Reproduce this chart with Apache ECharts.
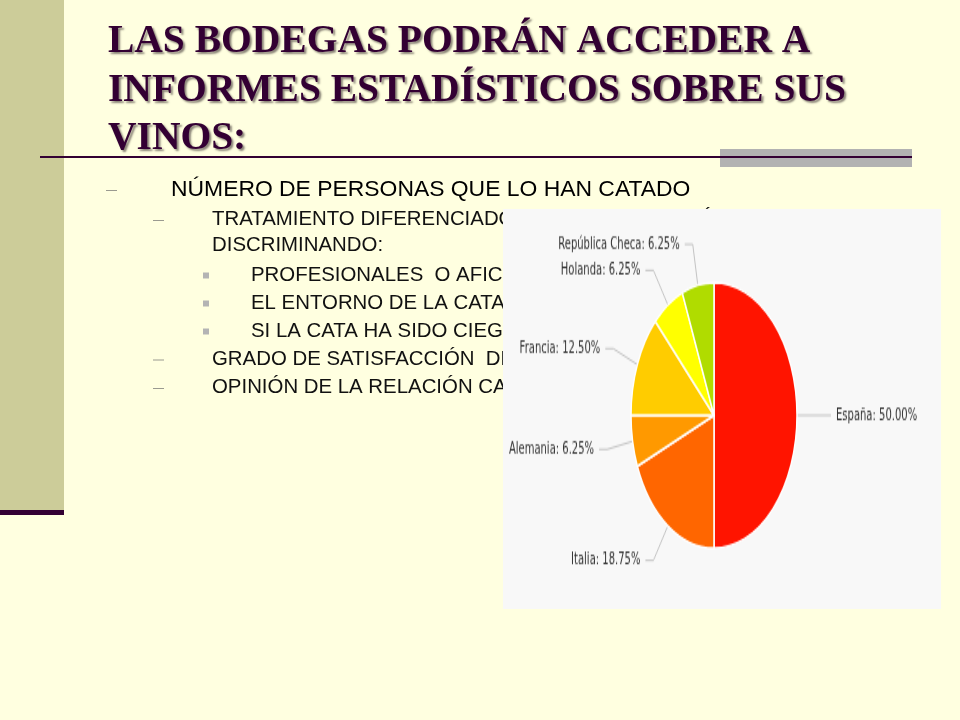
<!DOCTYPE html>
<html>
<head>
<meta charset="utf-8">
<script src="https://cdn.jsdelivr.net/npm/echarts@6/dist/echarts.min.js"></script>
<style>
  html, body { margin: 0; padding: 0; background: #ffffe0; }
  #slide { position: absolute; left: 0; top: 0; width: 960px; height: 720px; }
  #pie { position: absolute; left: 503px; top: 209px; width: 438px; height: 250px;
         transform: scaleY(1.6); transform-origin: 0 0; }
</style>
</head>
<body>
<div id="slide"></div>
<div id="pie"></div>
<script>
// ---- data ----
const titleLines = ['LAS BODEGAS PODRÁN ACCEDER A', 'INFORMES ESTADÍSTICOS SOBRE SUS', 'VINOS:'];
const level1Items = ['NÚMERO DE PERSONAS QUE LO HAN CATADO'];
const level2Items = ['TRATAMIENTO DIFERENCIADO DE LA INFORMACIÓN,', 'DISCRIMINANDO:'];
const level3Items = ['PROFESIONALES  O AFICIONADOS', 'EL ENTORNO DE LA CATA', 'SI LA CATA HA SIDO CIEGA'];
const level2More = ['GRADO DE SATISFACCIÓN  DEL CATADOR', 'OPINIÓN DE LA RELACIÓN CALIDAD-PRECIO'];
const countries = ['España', 'Italia', 'Alemania', 'Francia', 'Holanda', 'República Checa'];
const shares = [50.00, 18.75, 6.25, 12.50, 6.25, 6.25];
const sliceColors = ['#ff1400', '#ff6600', '#ff9900', '#ffcc00', '#ffff00', '#b0dc00'];

// ---- slide (background, title, bullets) ----
const slide = echarts.init(document.getElementById('slide'));
const purple = '#330033';
const g = [];
g.push({ type: 'rect', shape: { x: 0, y: 0, width: 64, height: 510 }, style: { fill: '#cccc99' }, z: 1 });
g.push({ type: 'rect', shape: { x: 0, y: 510, width: 64, height: 5 }, style: { fill: purple }, z: 1 });
g.push({ type: 'rect', shape: { x: 720, y: 149, width: 192, height: 18 }, style: { fill: '#b2b2b2' }, z: 1 });
g.push({ type: 'line', shape: { x1: 40, y1: 157, x2: 912, y2: 157 }, style: { stroke: purple, lineWidth: 2 }, z: 2 });
const titleY = [42, 90.3, 138.6];
titleLines.forEach((t, i) => {
  g.push({ type: 'text', x: 108, y: titleY[i], z: 3,
    style: { text: t, fontFamily: '"Liberation Serif", "Times New Roman", serif', fontWeight: 'bold',
      fontSize: 39.5, fill: purple, align: 'left', verticalAlign: 'middle',
      textShadowColor: 'rgba(60,50,50,0.6)', textShadowOffsetX: 2, textShadowOffsetY: 2, textShadowBlur: 2 } });
});
const sans = '"Liberation Sans", Arial, sans-serif';
function dash(x, y) {
  g.push({ type: 'line', shape: { x1: x, y1: y, x2: x + 11, y2: y }, style: { stroke: '#9a9a90', lineWidth: 1 }, z: 2 });
}
function txt(t, x, y, size, color) {
  g.push({ type: 'text', x: x, y: y, z: 3,
    style: { text: t, fontFamily: sans, fontSize: size, fill: color, align: 'left', verticalAlign: 'middle' } });
}
// level 1
dash(106, 190.5);
txt(level1Items[0], 171, 189.5, 22.9, '#000000');
// level 2
dash(153, 220.5);
txt(level2Items[0], 212, 219, 20.4, '#111111');
txt(level2Items[1], 212, 245.5, 20.4, '#111111');
// level 3
const l3y = [275, 303, 331];
level3Items.forEach((t, i) => {
  g.push({ type: 'rect', shape: { x: 203, y: l3y[i] - 2.5, width: 6, height: 6 }, style: { fill: '#b4b4b4' }, z: 2 });
  txt(t, 251, l3y[i], 20.4, '#111111');
});
const l2y = [359, 387.5];
level2More.forEach((t, i) => {
  dash(153, l2y[i] + 1);
  txt(t, 212, l2y[i], 20.4, '#111111');
});
slide.setOption({ backgroundColor: '#ffffe0', animation: false, graphic: { elements: g } });

// ---- pie chart panel ----
const pie = echarts.init(document.getElementById('pie'));
pie.setOption({
  backgroundColor: '#f8f8f8',
  animation: false,
  color: sliceColors,
  series: [{
    type: 'pie',
    center: [211, 129],
    radius: 83,
    startAngle: 90,
    clockwise: true,
    avoidLabelOverlap: true,
    data: countries.map((n, i) => ({ name: n, value: shares[i] })),
    label: {
      show: true,
      formatter: p => p.name + ': ' + p.value.toFixed(2) + '%',
      fontFamily: '"DejaVu Sans", Verdana, sans-serif',
      fontSize: 10,
      color: '#333333',
      overflow: 'none',
      padding: [5, 0, 0, 0]
    },
    labelLine: { show: true, length: 26, length2: 8, smooth: false,
      lineStyle: { color: '#c4c4c4', width: 1 } },
    itemStyle: { borderColor: '#ffffff', borderWidth: 1.5 },
    emphasis: { disabled: true }
  }]
});
</script>
</body>
</html>
